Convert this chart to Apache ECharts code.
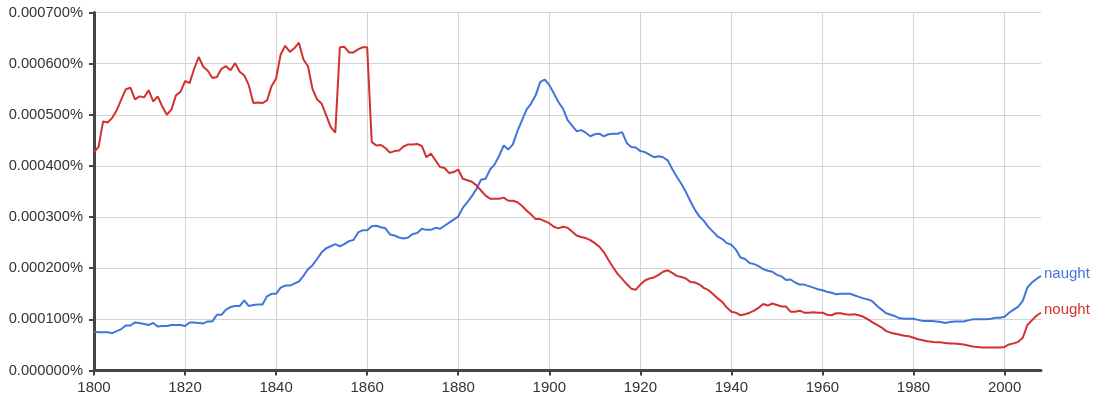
<!DOCTYPE html>
<html>
<head>
<meta charset="utf-8">
<script src="https://cdn.jsdelivr.net/npm/echarts@6/dist/echarts.min.js"></script>
<style>
html,body{margin:0;padding:0;background:#fff;}
#chart{width:1107px;height:399px;}
</style>
</head>
<body>
<div id="chart"></div>
<script>
const firstYear = 1800;
const lastYear = 2008;
const years = [];
for (let y = firstYear; y <= lastYear; y++) years.push(String(y));

// Frequency in percent, 1800..2008
const naught = [
0.000076,0.000075,0.000075,0.000075,0.000073,0.000077,0.000081,0.000088,0.000088,0.000094,
0.000093,0.000091,0.000089,0.000093,0.000086,0.000087,0.000087,0.000089,0.000089,0.000089,
0.000087,0.000094,0.000094,0.000093,0.000092,0.000096,0.000096,0.000109,0.000109,0.000119,
0.000124,0.000126,0.000126,0.000137,0.000126,0.000128,0.000129,0.000129,0.000145,0.000150,
0.000150,0.000162,0.000166,0.000166,0.000170,0.000174,0.000185,0.000198,0.000206,0.000218,
0.000231,0.000239,0.000243,0.000247,0.000243,0.000247,0.000253,0.000255,0.000270,0.000274,
0.000274,0.000282,0.000283,0.000280,0.000278,0.000266,0.000264,0.000260,0.000258,0.000260,
0.000267,0.000269,0.000277,0.000275,0.000275,0.000279,0.000277,0.000283,0.000289,0.000295,
0.000301,0.000318,0.000329,0.000341,0.000355,0.000373,0.000375,0.000393,0.000403,0.000420,
0.000440,0.000432,0.000442,0.000468,0.000489,0.000510,0.000522,0.000538,0.000564,0.000569,
0.000558,0.000542,0.000525,0.000512,0.000490,0.000479,0.000468,0.000470,0.000465,0.000458,
0.000462,0.000463,0.000458,0.000462,0.000463,0.000463,0.000466,0.000445,0.000437,0.000436,
0.000429,0.000427,0.000422,0.000417,0.000419,0.000417,0.000411,0.000394,0.000379,0.000365,
0.000349,0.000331,0.000314,0.000301,0.000292,0.000280,0.000271,0.000262,0.000257,0.000249,
0.000246,0.000236,0.000221,0.000218,0.000210,0.000208,0.000204,0.000198,0.000195,0.000193,
0.000187,0.000184,0.000177,0.000178,0.000172,0.000168,0.000168,0.000165,0.000162,0.000159,
0.000157,0.000154,0.000152,0.000149,0.000150,0.000150,0.000150,0.000147,0.000144,0.000141,
0.000139,0.000135,0.000126,0.000119,0.000112,0.000109,0.000106,0.000102,0.000101,0.000101,
0.000101,0.000099,0.000097,0.000097,0.000097,0.000096,0.000095,0.000093,0.000095,0.000096,
0.000096,0.000096,0.000098,0.000100,0.000100,0.000100,0.000100,0.000101,0.000103,0.000103,
0.000105,0.000113,0.000119,0.000125,0.000136,0.000162,0.000172,0.000179,0.000185
];

const nought = [
0.000427,0.000437,0.000487,0.000485,0.000494,0.000509,0.000530,0.000550,0.000553,0.000530,
0.000536,0.000534,0.000548,0.000526,0.000536,0.000516,0.000500,0.000510,0.000538,0.000545,
0.000566,0.000562,0.000590,0.000613,0.000594,0.000586,0.000572,0.000574,0.000590,0.000595,
0.000587,0.000601,0.000584,0.000577,0.000558,0.000523,0.000524,0.000523,0.000528,0.000556,
0.000571,0.000618,0.000635,0.000623,0.000630,0.000641,0.000608,0.000595,0.000550,0.000530,
0.000522,0.000499,0.000476,0.000465,0.000632,0.000633,0.000622,0.000622,0.000628,0.000632,
0.000632,0.000447,0.000440,0.000441,0.000435,0.000426,0.000429,0.000430,0.000438,0.000442,
0.000442,0.000443,0.000439,0.000417,0.000424,0.000411,0.000398,0.000396,0.000386,0.000388,
0.000393,0.000375,0.000372,0.000369,0.000362,0.000352,0.000342,0.000336,0.000336,0.000336,
0.000338,0.000332,0.000332,0.000329,0.000322,0.000313,0.000305,0.000296,0.000296,0.000292,
0.000288,0.000281,0.000278,0.000281,0.000279,0.000272,0.000264,0.000261,0.000259,0.000255,
0.000249,0.000242,0.000231,0.000216,0.000202,0.000189,0.000179,0.000169,0.000160,0.000158,
0.000168,0.000176,0.000180,0.000182,0.000187,0.000193,0.000196,0.000191,0.000185,0.000183,
0.000180,0.000173,0.000172,0.000168,0.000161,0.000157,0.000149,0.000141,0.000134,0.000123,
0.000115,0.000113,0.000108,0.000110,0.000113,0.000117,0.000123,0.000130,0.000127,0.000131,
0.000128,0.000125,0.000125,0.000115,0.000115,0.000117,0.000113,0.000113,0.000114,0.000113,
0.000113,0.000109,0.000108,0.000112,0.000112,0.000110,0.000109,0.000110,0.000108,0.000105,
0.000100,0.000094,0.000089,0.000084,0.000077,0.000074,0.000072,0.000070,0.000068,0.000067,
0.000064,0.000061,0.000059,0.000057,0.000056,0.000055,0.000055,0.000054,0.000053,0.000053,
0.000052,0.000051,0.000049,0.000047,0.000046,0.000045,0.000045,0.000045,0.000045,0.000045,
0.000046,0.000051,0.000053,0.000056,0.000064,0.000089,0.000098,0.000107,0.000113
];

const yMin = 0;
const yMax = 0.0007;
const yStep = 0.0001;
const yearStep = 20;

const chart = echarts.init(document.getElementById('chart'), null, {renderer: 'canvas'});
const font = 'Liberation Sans, Arial, Helvetica, sans-serif';
const every20 = (i, v) => Number(v) % yearStep === 0;

chart.setOption({
  animation: false,
  backgroundColor: '#ffffff',
  grid: {left: 94, right: 66, top: 12.5, bottom: 28.5, containLabel: false},
  xAxis: {
    type: 'category',
    data: years,
    boundaryGap: false,
    axisLine: {lineStyle: {color: '#444', width: 3}},
    axisTick: {show: true, interval: every20, length: 5, lineStyle: {color: '#444', width: 2}},
    axisLabel: {interval: every20, color: '#333', fontSize: 15, fontFamily: font, margin: 10},
    splitLine: {show: true, interval: every20, lineStyle: {color: '#d4d4d4', width: 1}}
  },
  yAxis: {
    type: 'value',
    min: yMin, max: yMax, interval: yStep,
    axisLine: {show: true, lineStyle: {color: '#444', width: 3}},
    axisTick: {show: true, length: 5, lineStyle: {color: '#444', width: 2}},
    axisLabel: {color: '#333', fontSize: 14.7, fontFamily: font, margin: 11,
      formatter: v => v.toFixed(6) + '%'},
    splitLine: {show: true, lineStyle: {color: '#d4d4d4', width: 1}}
  },
  series: [
    {
      name: 'naught', type: 'line', data: naught, showSymbol: false, smooth: false,
      lineStyle: {color: '#4274dc', width: 2}, itemStyle: {color: '#4274dc'},
      endLabel: {show: true, formatter: '{a}', color: '#4274dc', fontSize: 15, fontFamily: font, distance: 3, offset: [0, -2.5]}
    },
    {
      name: 'nought', type: 'line', data: nought, showSymbol: false, smooth: false,
      lineStyle: {color: '#d3302f', width: 2}, itemStyle: {color: '#d3302f'},
      endLabel: {show: true, formatter: '{a}', color: '#d3302f', fontSize: 15, fontFamily: font, distance: 3, offset: [0, -2.5]}
    }
  ]
});
</script>
</body>
</html>
